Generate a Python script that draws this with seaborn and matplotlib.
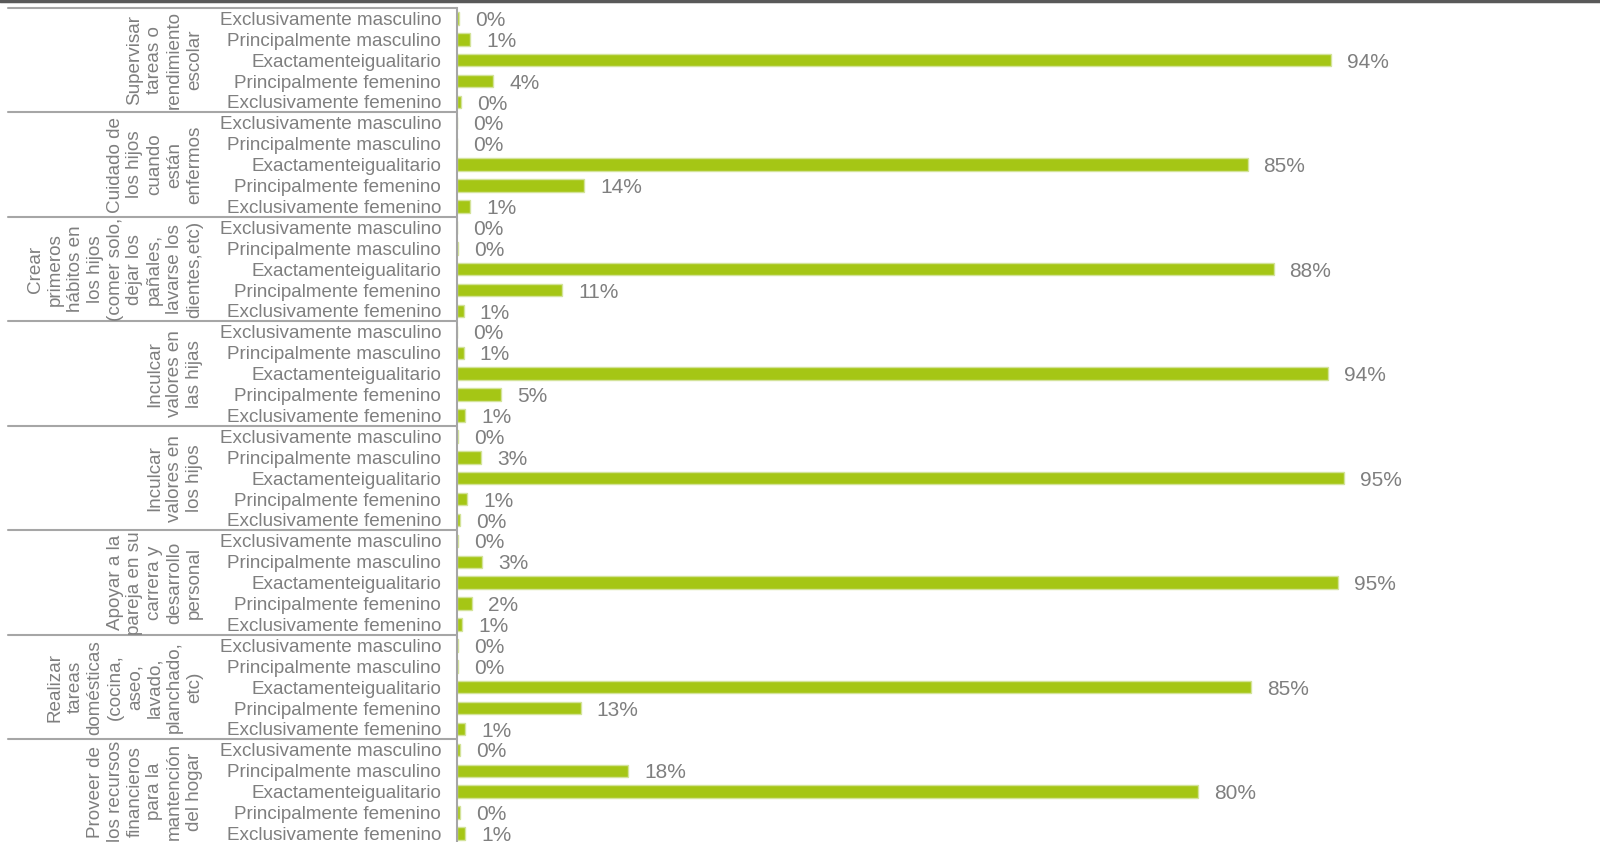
import matplotlib
matplotlib.use("Agg")
import matplotlib.pyplot as plt
import matplotlib.transforms as mtransforms
from matplotlib.lines import Line2D
import seaborn as sns
import pandas as pd
import numpy as np

# categories (same five answers in every group)
answers = ["Exclusivamente masculino", "Principalmente masculino", "Exactamenteigualitario",
           "Principalmente femenino", "Exclusivamente femenino"]

groups = [
    "Supervisar\ntareas o\nrendimiento\nescolar",
    "Cuidado de\nlos hijos\ncuando\nestán\nenfermos",
    "Crear\nprimeros\nhábitos en\nlos hijos\n(comer solo,\ndejar los\npañales,\nlavarse los\ndientes,etc)",
    "Inculcar\nvalores en\nlas hijas",
    "Inculcar\nvalores en\nlos hijos",
    "Apoyar a la\npareja en su\ncarrera y\ndesarrollo\npersonal",
    "Realizar\ntareas\ndomésticas\n(cocina,\naseo,\nlavado,\nplanchado,\netc)",
    "Proveer de\nlos recursos\nfinancieros\npara la\nmantención\ndel hogar",
]

# percentages per group, in the order of answers
supervisar = [0.2, 1.4, 94.0, 3.9, 0.4]
cuidado = [0.0, 0.0, 85.0, 13.7, 1.4]
crear = [0.0, 0.1, 87.8, 11.3, 0.7]
hijas = [0.0, 0.7, 93.7, 4.7, 0.9]
hijos = [0.15, 2.6, 95.4, 1.1, 0.3]
apoyar = [0.15, 2.7, 94.7, 1.6, 0.55]
realizar = [0.15, 0.15, 85.4, 13.3, 0.9]
proveer = [0.3, 18.4, 79.7, 0.3, 0.9]

values = [supervisar, cuidado, crear, hijas, hijos, apoyar, realizar, proveer]

rows = []
for g, vals in enumerate(values):
    for a, v in zip(answers, vals):
        rows.append({"row": f"{g}-{a}", "answer": a, "pct": v})
df = pd.DataFrame(rows)

sns.set_style("white")
plt.rcParams["font.family"] = ["Liberation Sans", "DejaVu Sans"]

gray = "#7F7F7F"
green = "#A5C615"
fs = 13.6

fig = plt.figure(figsize=(16, 8.42), dpi=100)
ax = fig.add_axes([457 / 1600, -1.95 / 842, 1143 / 1600, 0.9929])

sns.barplot(data=df, y="row", x="pct", orient="h", color=green, width=0.6,
            edgecolor="#D3E39A", linewidth=1, saturation=1, ax=ax)

ax.set_xlim(0, 1143 / 9.3)
ax.set_ylim(len(df) - 0.5, -0.5)
ax.set_xlabel("")
ax.set_ylabel("")
ax.set_xticks([])
ax.set_yticks(range(len(df)))
ax.set_yticklabels(df["answer"], fontsize=fs, color=gray)
ax.tick_params(axis="y", length=0, pad=11.5)

for s in ["top", "right", "bottom"]:
    ax.spines[s].set_visible(False)
ax.spines["left"].set_color("#A6A6A6")
ax.spines["left"].set_linewidth(1.5)

# value labels
for i, v in enumerate(df["pct"]):
    ax.annotate(f"{v:.0f}%", (v, i), xytext=(11.5, -1.5), textcoords="offset points",
                va="center", ha="left", fontsize=15, color=gray)

# group separators and group labels
trans = mtransforms.blended_transform_factory(ax.transAxes, ax.transData)
x0 = (8 - 457) / 1143
for g in range(len(groups) + 1):
    y = g * 5 - 0.5
    ax.plot([x0, 0], [y, y], transform=trans, color="#A6A6A6", lw=1.5, clip_on=False)
for g, name in enumerate(groups):
    ax.text((203 - 457) / 1143, g * 5 + 2, name, transform=trans, rotation=90,
            ha="right", va="center", multialignment="center", fontsize=fs,
            color=gray, linespacing=1.22)

# dark rule across the very top
fig.add_artist(Line2D([0, 1], [0.9985, 0.9985], transform=fig.transFigure,
                      color="#595959", lw=2.5))

fig.savefig("out.png", dpi=100)
